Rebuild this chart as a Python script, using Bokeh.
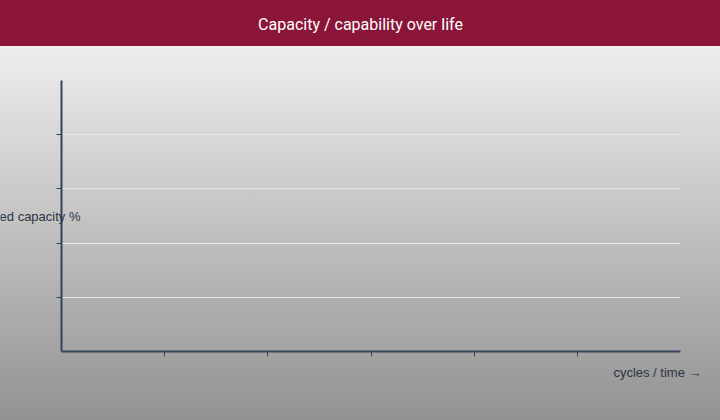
from bokeh.plotting import figure
from bokeh.models import Range1d, FixedTicker, CustomJSTickFormatter, Label, ColumnDataSource
from bokeh.embed import file_html
from bokeh.resources import INLINE

# ---- data (the reference chart shows no series) ----
title_text = "Capacity / capability over life"
x_label = "cycles / time \u2192"
y_label = "Normalized capacity %"
x_ticks = [1, 2, 3, 4, 5]
y_ticks = [20, 40, 60, 80]
x_limits = [0, 6]
y_limits = [0, 100]
cycles = []
capacity = []

W, H = 720, 420
TEXT = "#2b3445"
AXIS = "#34425a"
ABS = {"position": "absolute", "left": "0px", "top": "0px"}

# ---- chart ----
p = figure(width=W, height=H, output_backend="svg", toolbar_location=None,
           x_range=Range1d(*x_limits), y_range=Range1d(*y_limits),
           min_border_left=61, min_border_right=40, min_border_top=80, min_border_bottom=69,
           styles=dict(ABS, background="linear-gradient(to bottom, #8b1538 0px, #8b1538 46px, "
                                       "#eeeeee 46px, #929292 100%)"))
p.background_fill_alpha = 0
p.border_fill_alpha = 0
p.outline_line_color = None

src = ColumnDataSource(dict(x=cycles, y=capacity))
p.line("x", "y", source=src, line_color="#8b1538", line_width=2)

blank = CustomJSTickFormatter(code="return ''")
for ax, ticks in ((p.xaxis[0], x_ticks), (p.yaxis[0], y_ticks)):
    ax.ticker = FixedTicker(ticks=ticks)
    ax.formatter = blank
    ax.axis_line_color = AXIS
    ax.axis_line_width = 2
    ax.major_tick_line_color = AXIS
    ax.major_tick_line_width = 1
    ax.major_tick_in = 0
    ax.major_tick_out = 5
    ax.minor_tick_line_color = None
    ax.major_label_standoff = 0

p.xgrid.grid_line_color = None
p.ygrid.ticker = FixedTicker(ticks=y_ticks)
p.ygrid.grid_line_color = "#e2e8f0"
p.ygrid.grid_line_width = 1

# ---- transparent text layer (page pixel space, y downwards) ----
q = figure(width=W, height=H, output_backend="svg", toolbar_location=None,
           x_range=Range1d(0, W), y_range=Range1d(H, 0),
           x_axis_location=None, y_axis_location=None, min_border=0,
           styles=dict(ABS))
q.background_fill_alpha = 0
q.border_fill_alpha = 0
q.outline_line_color = None
q.grid.visible = False

q.add_layout(Label(x=360, y=24, text=title_text, text_align="center", text_baseline="middle",
                   text_font="Roboto", text_font_size="16px", text_color="#ffffff"))
q.add_layout(Label(x=80, y=215.5, text=y_label, text_align="right", text_baseline="middle",
                   text_font="Liberation Sans", text_font_size="13px", text_color=TEXT))
q.add_layout(Label(x=701, y=372, text=x_label, text_align="right", text_baseline="middle",
                   text_font="Liberation Sans", text_font_size="13px", text_color=TEXT))

open("out.html", "w").write(file_html([p, q], INLINE))
